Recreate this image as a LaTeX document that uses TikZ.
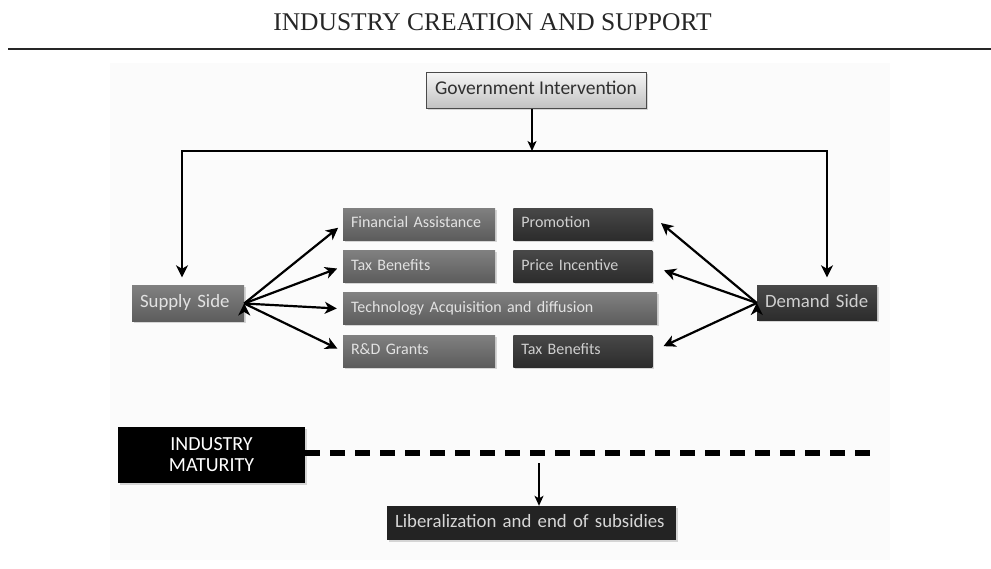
\documentclass[tikz,border=0pt]{standalone}
\usepackage{fontspec}
\usetikzlibrary{positioning}
\usetikzlibrary{arrows.meta}
\usetikzlibrary{shadows}
\newfontfamily\boxfont{Carlito}
\newfontfamily\headfont{Liberation Serif}
\definecolor{supplytop}{HTML}{808080}
\definecolor{supplybot}{HTML}{5C5C5C}
\definecolor{supplytext}{HTML}{E2E2E2}
\definecolor{demandtop}{HTML}{484848}
\definecolor{demandbot}{HTML}{2C2C2C}
\definecolor{demandtext}{HTML}{CFCFCF}
\definecolor{govtop}{HTML}{F6F6F6}
\definecolor{govbot}{HTML}{C2C2C2}
\definecolor{govline}{HTML}{4A4A4A}
\definecolor{govtext}{HTML}{303030}
\definecolor{libfill}{HTML}{232323}
\definecolor{libtext}{HTML}{D6D6D6}
\definecolor{inkline}{HTML}{262626}
\definecolor{backdrop}{HTML}{FBFBFB}
\tikzset{
    node distance=10pt and 18pt,
    every node/.append style={
        font=\boxfont,
        inner ysep=0pt
    },
    shadowed/.style={
        drop shadow={opacity=0.3, shadow xshift=1.5pt, shadow yshift=-1.5pt}
    },
    supplyitem/.style={
        rectangle, shadowed,
        minimum height=32pt,
        text height=11pt, text depth=3.5pt,
        inner xsep=8pt,
        align=left,
        top color=supplytop, bottom color=supplybot,
        text=supplytext,
        font=\boxfont\fontsize{16}{18}\selectfont
    },
    demanditem/.style={
        supplyitem,
        top color=demandtop, bottom color=demandbot,
        text=demandtext
    },
    supplybox/.style={
        supplyitem,
        minimum height=36pt,
        text height=12.5pt, text depth=4pt,
        font=\boxfont\fontsize{18.8}{20}\selectfont
    },
    demandbox/.style={
        supplybox,
        minimum height=35pt,
        top color=demandtop, bottom color=demandbot,
        text=demandtext
    },
    govbox/.style={
        rectangle, shadowed,
        minimum width=220pt, minimum height=36pt,
        text height=12.5pt, text depth=4pt,
        top color=govtop, bottom color=govbot,
        draw=govline, line width=1pt,
        text=govtext,
        font=\boxfont\fontsize{19.5}{20}\selectfont
    },
    maturitybox/.style={
        rectangle, shadowed,
        minimum width=187pt, minimum height=56pt,
        fill=black, text=white,
        align=center,
        font=\boxfont\fontsize{20}{21}\selectfont
    },
    libbox/.style={
        rectangle, shadowed,
        minimum height=34pt,
        text height=12.5pt, text depth=4pt,
        inner xsep=8pt, align=left,
        fill=libfill, text=libtext,
        font=\boxfont\fontsize{18.8}{20}\selectfont
    },
    title/.style={
        anchor=base,
        text=inkline,
        font=\headfont\fontsize{25.5}{28}\selectfont
    },
    feed/.style={
        draw, ->, >={Stealth[length=12pt, width=12pt, inset=3.5pt]},
        line width=2.2pt
    },
    trunk/.style={
        feed,
        line width=2.6pt
    },
    thinarrow/.style={
        draw, ->, >={Stealth[length=10pt, width=9pt, inset=2.5pt]},
        line width=1.4pt
    },
    dashline/.style={
        line width=6.5pt,
        dash pattern=on 15pt off 10pt
    }
}
\begin{document}
\begin{tikzpicture}[x=1pt, y=-1pt]
                        \useasboundingbox (0,0) rectangle (991,568);
                        \fill[backdrop] (110,63) rectangle (890,560);

                        \node[title] (head) at (492.5,30.7) {INDUSTRY CREATION AND SUPPORT};
                        \coordinate (rulel) at (8,49);
                        \coordinate (ruler) at (991,49);
                        \draw[inkline, line width=1.8pt] (rulel) -- (ruler);

                        \node[govbox] (gov) at (536,90) {Government Intervention};
                        \node[supplybox, text width=96pt] (supply) at (188,303.5) {Supply Side};
                        \node[demandbox, text width=104pt] (demand) at (817,303) {Demand Side};

                        \node[supplyitem, text width=136pt] (finance) at (419,224) {Financial Assistance};
                        \node[demanditem, text width=123pt, right=of finance] (promo) {Promotion};
                        \node[supplyitem, text width=136pt, below=of finance] (taxs) {Tax Benefits};
                        \node[demanditem, text width=123pt, right=of taxs] (price) {Price Incentive};
                        \node[supplyitem, text width=298pt, below=of taxs.south west, anchor=north west] (tech) {Technology Acquisition and diffusion};
                        \node[supplyitem, text width=136pt, below=of tech.south west, anchor=north west] (grants) {R\&D Grants};
                        \node[demanditem, text width=123pt, right=of grants] (taxd) {Tax Benefits};

                        \coordinate (split) at (532,151);
                        \coordinate (lft) at (182,151);
                        \coordinate (rgt) at (827,151);
                        \draw[thinarrow] (split |- gov.south) -- (split);
                        \draw[trunk, shorten >=8pt] (split) -| (lft |- supply.north);
                        \draw[trunk, shorten >=8pt] (split) -| (rgt |- demand.north);

                        \draw[feed] (supply.east) edge[shorten >=6pt] (finance.west)
                            edge[shorten >=6pt] (taxs.west)
                            edge[shorten >=6pt] (tech.west)
                            edge[shorten >=6pt] (grants.west);
                        \draw[feed] (demand.west) edge[shorten >=11pt] ([yshift=8pt]promo.east)
                            edge[shorten >=12pt] (price.east)
                            edge[shorten >=12pt] (taxd.east);

                        \node[maturitybox] (mature) at (211.5,455) {INDUSTRY\\MATURITY};
                        \coordinate (dashend) at (875,453);
                        \draw[dashline] (mature.east |- dashend) -- (dashend);

                        \node[libbox, text width=273pt] (liberal) at (531.5,523) {Liberalization and end of subsidies};
                        \coordinate (drop) at (539,463);
                        \draw[thinarrow] (drop) -- (drop |- liberal.north);
                    \end{tikzpicture}
\end{document}
